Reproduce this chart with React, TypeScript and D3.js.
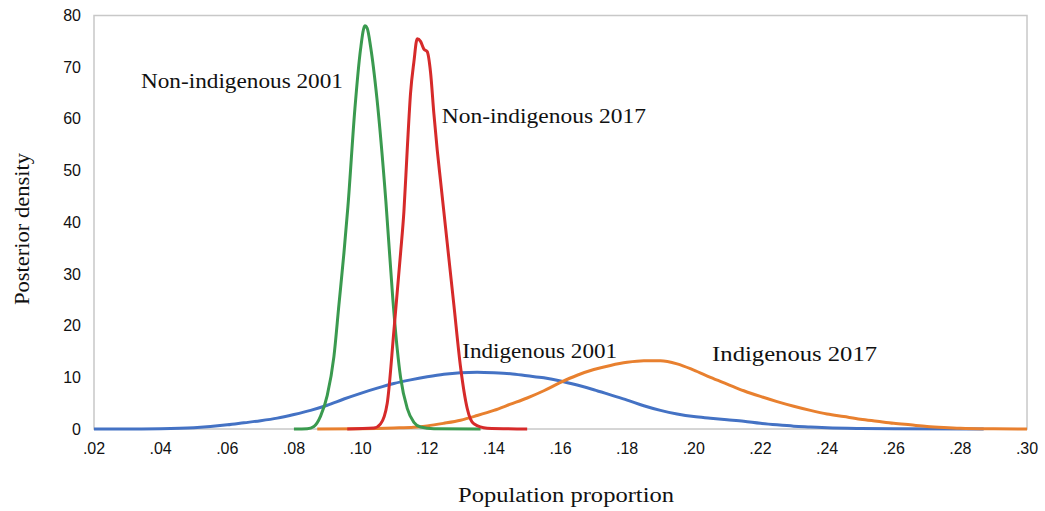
import React from "react";
import * as d3 from "d3";

const xTicks = [0.02, 0.04, 0.06, 0.08, 0.1, 0.12, 0.14, 0.16, 0.18, 0.2, 0.22, 0.24, 0.26, 0.28, 0.3];
const yTicks = [0, 10, 20, 30, 40, 50, 60, 70, 80];

const indigenous2001: [number, number][] = [
  [0.02, 0], [0.03, 0], [0.04, 0.05], [0.05, 0.25], [0.06, 0.8], [0.065, 1.2], [0.07, 1.6],
  [0.075, 2.1], [0.08, 2.8], [0.085, 3.6], [0.09, 4.6], [0.095, 5.8], [0.1, 6.9],
  [0.105, 7.9], [0.11, 8.8], [0.115, 9.5], [0.12, 10.1], [0.125, 10.6], [0.13, 10.9],
  [0.135, 11.0], [0.14, 10.9], [0.145, 10.7], [0.15, 10.3], [0.155, 9.9], [0.16, 9.3],
  [0.165, 8.5], [0.17, 7.6], [0.175, 6.6], [0.18, 5.6], [0.185, 4.5], [0.19, 3.6],
  [0.195, 2.9], [0.2, 2.4], [0.205, 2.1], [0.21, 1.8], [0.215, 1.5], [0.22, 1.1],
  [0.225, 0.8], [0.23, 0.55], [0.235, 0.4], [0.24, 0.25], [0.25, 0.1], [0.26, 0.03], [0.287, 0],
];

const indigenous2017: [number, number][] = [
  [0.087, 0], [0.1, 0.05], [0.11, 0.2], [0.116, 0.35], [0.12, 0.6], [0.125, 1.1],
  [0.13, 1.7], [0.135, 2.6], [0.14, 3.6], [0.145, 4.8], [0.15, 6.0], [0.155, 7.4],
  [0.16, 9.0], [0.165, 10.4], [0.17, 11.5], [0.175, 12.3], [0.18, 12.9], [0.185, 13.2],
  [0.19, 13.2], [0.195, 12.6], [0.2, 11.4], [0.205, 10.0], [0.21, 8.7], [0.215, 7.4],
  [0.22, 6.3], [0.225, 5.3], [0.23, 4.4], [0.235, 3.6], [0.24, 2.9], [0.245, 2.4],
  [0.25, 1.9], [0.255, 1.5], [0.26, 1.1], [0.265, 0.8], [0.27, 0.5], [0.275, 0.3],
  [0.28, 0.15], [0.29, 0.04], [0.3, 0],
];

const nonIndigenous2001: [number, number][] = [
  [0.08, 0], [0.084, 0.05], [0.086, 0.5], [0.088, 2.5], [0.09, 6.5], [0.092, 14],
  [0.0935, 24], [0.095, 34], [0.0962, 43], [0.0983, 62], [0.1, 73.5], [0.1013, 78],
  [0.102, 77.5], [0.103, 74], [0.1049, 64], [0.1076, 44], [0.1097, 25], [0.111, 15.5],
  [0.112, 10], [0.114, 4], [0.116, 1.3], [0.118, 0.4], [0.122, 0.05], [0.136, 0],
];

const nonIndigenous2017: [number, number][] = [
  [0.096, 0], [0.104, 0.2], [0.106, 1], [0.108, 5], [0.11, 19], [0.112, 34],
  [0.113, 42], [0.114, 54], [0.115, 65], [0.116, 71], [0.117, 75.5], [0.118, 75],
  [0.119, 73.5], [0.12, 73], [0.121, 69], [0.122, 61], [0.123, 54], [0.124, 48],
  [0.125, 42], [0.126, 36], [0.128, 24], [0.13, 12], [0.132, 4], [0.134, 1],
  [0.138, 0.15], [0.15, 0],
];

const seriesNames = ["Indigenous 2001", "Indigenous 2017", "Non-indigenous 2001", "Non-indigenous 2017"];
const seriesData = [indigenous2001, indigenous2017, nonIndigenous2001, nonIndigenous2017];
const seriesColors = ["#4472c4", "#e8802f", "#3a9a4f", "#d62a2a"];

// label anchors (data-space position of left edge baseline)
const labelPos: [number, number][] = [
  [0.1305, 13.7],
  [0.2055, 13.2],
  [0.0341, 66],
  [0.1244, 59.2],
];
const labelWidths = [155, 165, 202, 204];

export default function App() {
  const W = 1045, H = 511;
  const left = 94, right = 1027, top = 15.5, bottom = 429;
  const x = d3.scaleLinear().domain([0.02, 0.3]).range([left, right]);
  const y = d3.scaleLinear().domain([0, 80]).range([bottom, top]);
  const line = d3.line<[number, number]>().x((d) => x(d[0])).y((d) => y(d[1])).curve(d3.curveMonotoneX);
  const tickFont = "'Liberation Sans', Arial, sans-serif";
  const serif = "'Liberation Serif', 'Times New Roman', serif";

  return (
    <svg width={W} height={H} style={{ position: "absolute", left: 0, top: 0, background: "#fff" }}>
      <rect x={left} y={top} width={right - left} height={bottom - top} fill="none" stroke="#c8c8c8" strokeWidth={1.5} />
      {yTicks.map((t) => (
        <text key={"y" + t} x={81} y={y(t)} dy="0.35em" textAnchor="end" fontFamily={tickFont} fontSize={16} fill="#111">
          {t}
        </text>
      ))}
      {xTicks.map((t) => (
        <text key={"x" + t} x={x(t)} y={448} dy="0.35em" textAnchor="middle" fontFamily={tickFont} fontSize={16} fill="#111">
          {d3.format(".2f")(t).replace(/^0/, "")}
        </text>
      ))}
      {seriesData.map((s, i) => (
        <path key={seriesNames[i]} d={line(s) || ""} fill="none" stroke={seriesColors[i]} strokeWidth={3} strokeLinejoin="round" />
      ))}
      {seriesNames.map((n, i) => (
        <text
          key={"l" + n}
          x={x(labelPos[i][0])}
          y={y(labelPos[i][1])}
          fontFamily={serif}
          fontSize={20}
          fill="#111"
          textLength={labelWidths[i]}
          lengthAdjust="spacingAndGlyphs"
        >
          {n}
        </text>
      ))}
      <text
        transform={`translate(29,229) rotate(-90)`}
        textAnchor="middle"
        fontFamily={serif}
        fontSize={21}
        fill="#111"
        textLength={152}
        lengthAdjust="spacingAndGlyphs"
      >
        Posterior density
      </text>
      <text x={566} y={502} textAnchor="middle" fontFamily={serif} fontSize={20} fill="#111" textLength={216} lengthAdjust="spacingAndGlyphs">
        Population proportion
      </text>
    </svg>
  );
}
